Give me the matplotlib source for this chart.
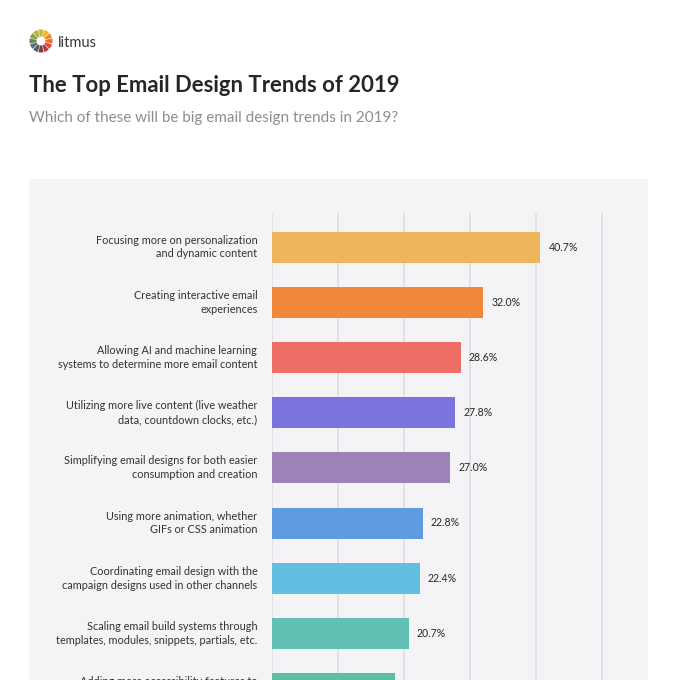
import matplotlib
matplotlib.use("Agg")
import matplotlib.pyplot as plt
from matplotlib.patches import Rectangle, Wedge
import numpy as np

# ---------------- data ----------------
categories = [
    "Focusing more on personalization\nand dynamic content",
    "Creating interactive email\nexperiences",
    "Allowing AI and machine learning\nsystems to determine more email content",
    "Utilizing more live content (live weather\ndata, countdown clocks, etc.)",
    "Simplifying email designs for both easier\nconsumption and creation",
    "Using more animation, whether\nGIFs or CSS animation",
    "Coordinating email design with the\ncampaign designs used in other channels",
    "Scaling email build systems through\ntemplates, modules, snippets, partials, etc.",
    "Adding more accessibility features to\nemails for subscribers with disabilities",
]
values = [40.7, 32.0, 28.6, 27.8, 27.0, 22.8, 22.4, 20.7, 18.6]
colors = ["#F0B45E", "#F0883A", "#EC6E67", "#7B74DE", "#9D82B8",
          "#5D9BE3", "#62BFE3", "#5FC2B4", "#5DBFA2"]
grid_ticks = [0, 10, 20, 30, 40, 50]

title = "The Top Email Design Trends of 2019"
subtitle = "Which of these will be big email design trends in 2019?"
brand = "litmus"
logo_colors = ["#C9B637", "#F3B52F", "#F28A30", "#EF6A3B", "#E04B3A", "#B8393B",
               "#7E3B44", "#4F5D6B", "#5C6D75", "#6D7F5A", "#8AA03C", "#B4B53A"]

# ---------------- figure ----------------
W, H, DPI = 675, 680, 100
plt.rcParams['font.family'] = ['Lato', 'DejaVu Sans']
fig = plt.figure(figsize=(W / DPI, H / DPI), dpi=DPI, facecolor="white")

def fx(px):
    return px / W

def fy(py):
    return 1 - py / H

# grey panel
fig.patches.append(Rectangle((fx(29), fy(700)), fx(648) - fx(29), fy(179) - fy(700),
                             transform=fig.transFigure, facecolor="#F4F4F6",
                             edgecolor="none", zorder=-5))

# logo
cx, cy, R, r = 41, 41, 11.5, 4.5
n = len(logo_colors)
for k, c in enumerate(logo_colors):
    a_center = 90 - k * 360 / n
    w = Wedge((cx, H - cy), R, a_center - 360 / n / 2 + 2, a_center + 360 / n / 2 - 2,
              width=R - r, facecolor=c, edgecolor="none",
              transform=None)
    fig.patches.append(w)
fig.text(fx(58), fy(47), brand, fontsize=10.5, color="#3A3A3A", ha="left", va="baseline")

# titles
fig.text(fx(29), fy(92), title, fontsize=15.9, color="#262626", ha="left",
         va="baseline", fontweight="bold")
fig.text(fx(29), fy(122), subtitle, fontsize=11.0, color="#8A8E92", ha="left",
         va="baseline")

# axes
ax_left, ax_right = 272.3, 647.7
unit = (601.7 - 272.3) / 50.0
top_px = 213
step = 55.2
first_center = 247
ylim_top = -(first_center - top_px) / step
nb = len(values)
ylim_bot = nb - 0.0
bottom_px = top_px + (ylim_bot - ylim_top) * step
ax = fig.add_axes([fx(ax_left), fy(bottom_px), fx(ax_right) - fx(ax_left),
                   fy(top_px) - fy(bottom_px)])
ax.set_zorder(2)
ax.set_facecolor("none")
ax.set_xlim(0, (ax_right - ax_left) / unit)
ax.set_ylim(ylim_bot, ylim_top)
for s in ax.spines.values():
    s.set_visible(False)
ax.set_xticks([])
ax.set_yticks([])
for t in grid_ticks:
    ax.axvline(t, color="#DEDEE2", lw=1.2, zorder=1)

ypos = np.arange(nb)
ax.barh(ypos, values, height=31 / step, color=colors, zorder=2)

for i, (lab, v) in enumerate(zip(categories, values)):
    ax.annotate(lab, xy=(0, i), xytext=(-15, 0), textcoords="offset pixels",
                ha="right", va="center", fontsize=7.85, color="#333333",
                multialignment="right", linespacing=1.3)
    ax.annotate(f"{v:.1f}%", xy=(v, i), xytext=(8, 0), textcoords="offset pixels",
                ha="left", va="center", fontsize=7.6, color="#262626")

fig.savefig("out.png", dpi=DPI, facecolor="white")
